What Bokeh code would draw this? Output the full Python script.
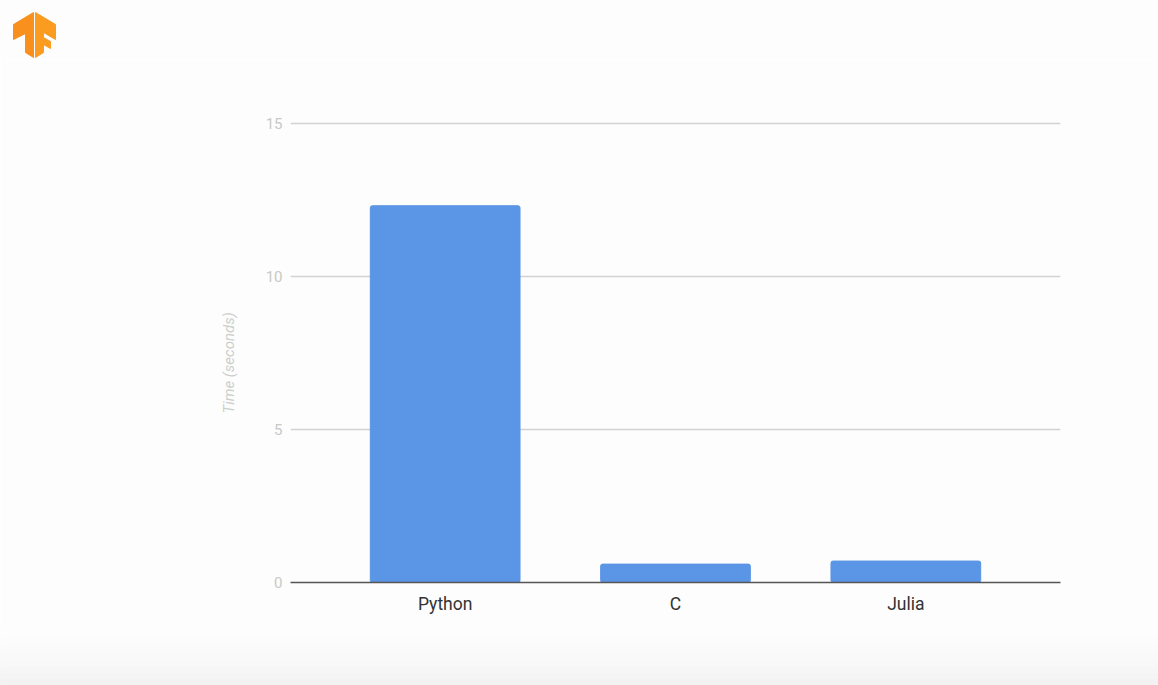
from bokeh.plotting import figure
from bokeh.layouts import column
from bokeh.models import FactorRange, Range1d, Title
from bokeh.embed import file_html
from bokeh.resources import INLINE

languages = ["Python", "C", "Julia"]
seconds = [12.3, 0.6, 0.7]
y_ticks = [0, 5, 10, 15]

bg = "#fcfdfc"
W = 1158
TOP_H = 60
MAIN_H = 565
BOTTOM_H = 60


def strip(height, y_start):
    # plain band of the slide in page pixels, no axes
    s = figure(x_range=Range1d(0, W), y_range=Range1d(y_start + height, y_start),
               width=W, height=height, output_backend="svg", toolbar_location=None,
               x_axis_location=None, y_axis_location=None, min_border=0, frame_align=False,
               background_fill_color=bg, border_fill_color=bg, outline_line_color=None)
    s.grid.visible = False
    return s


# TensorFlow logo, top left corner
logo_strip = strip(TOP_H, 0)
logo_strip.patch([13, 33, 33, 25, 25, 13], [24, 12, 57, 52, 33, 39], color="#f98f1c")
logo_strip.patch([35, 55, 55, 43, 43, 50, 50, 43, 43, 35],
                 [12, 24, 39, 32, 37, 41, 48, 44, 52, 57], color="#fb9b20")

p = figure(
    x_range=FactorRange(factors=languages, range_padding=0.1715, range_padding_units="absolute"),
    y_range=Range1d(0, 15.05),
    width=W,
    height=MAIN_H,
    output_backend="svg",
    toolbar_location=None,
    min_border_left=290,
    min_border_right=98,
    min_border_top=61,
    min_border_bottom=43,
    frame_align=False,
    background_fill_color=bg,
    border_fill_color=bg,
    outline_line_color=None,
)

p.vbar(x=languages, top=seconds, width=0.65, color="#5b95e5", border_radius=2)

p.yaxis.ticker = y_ticks
p.yaxis.axis_line_color = None
p.yaxis.major_tick_line_color = None
p.yaxis.major_tick_out = 0
p.yaxis.minor_tick_line_color = None
p.yaxis.major_label_text_font = "Roboto"
p.yaxis.major_label_text_font_size = "15px"
p.yaxis.major_label_text_color = "#c8c9c8"
p.yaxis.major_label_standoff = 8

# sits lower than the frame's middle, so a title on the left and not an axis label
p.add_layout(Title(text="Time (seconds)", align="left", offset=169, standoff=50,
                   text_font="Roboto", text_font_size="15px", text_font_style="italic",
                   text_color="#cdcfcd"), "left")

p.xaxis.axis_line_color = "#555555"
p.xaxis.axis_line_width = 1.5
p.xaxis.major_tick_line_color = None
p.xaxis.major_tick_out = 0
p.xaxis.minor_tick_line_color = None
p.xaxis.major_label_text_font = "Roboto"
p.xaxis.major_label_text_font_size = "17.5px"
p.xaxis.major_label_text_color = "#333333"
p.xaxis.major_label_standoff = 11

p.xgrid.grid_line_color = None
p.ygrid.grid_line_color = "#d0d3d0"
p.ygrid.grid_line_width = 1.3

# grey fade along the bottom of the slide
fade_strip = strip(BOTTOM_H, TOP_H + MAIN_H)
fade = ["#fbfcfb", "#fafbfa", "#f9faf9", "#f8f9f8", "#f7f8f7", "#f5f6f5", "#f3f4f3", "#f1f2f1"]
for i, c in enumerate(fade):
    fade_strip.quad(left=0, right=W, top=637 + i * 6, bottom=685, color=c)

page = column(logo_strip, p, fade_strip, spacing=0)
open("out.html", "w").write(file_html(page, INLINE))
